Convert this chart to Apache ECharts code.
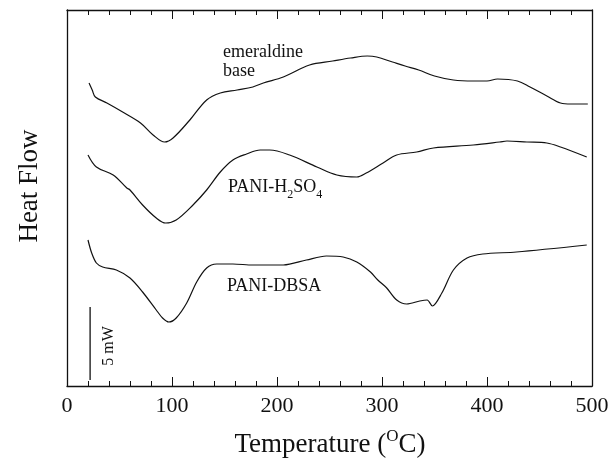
<!DOCTYPE html>
<html>
<head>
<meta charset="utf-8">
<script src="https://cdn.jsdelivr.net/npm/echarts@6/dist/echarts.min.js"></script>
<style>
  html, body { margin: 0; padding: 0; background: #fff; }
  #chart { width: 613px; height: 466px; }
</style>
</head>
<body>
<div id="chart"></div>
<script>
// DSC traces, heat flow in arbitrary units (traces are offset vertically)
const emeraldineTemp = [21, 24, 27, 38, 53, 70, 82, 93, 101, 117, 133, 146, 162, 177, 187, 206, 231, 253, 270, 286, 295, 310, 322, 335, 350, 368, 387, 400, 410, 429, 441, 457, 470, 480, 496];
const emeraldineFlow = [303, 296, 289, 283, 274, 263, 251, 244, 248, 266, 286, 293, 296, 299, 303, 309, 321, 325, 328, 330, 329, 324, 320, 316, 310, 306, 305, 305, 307, 305, 299, 290, 283, 282, 282];

const sulfuricTemp = [20, 28, 44, 57, 60, 72, 85, 94, 104, 120, 133, 146, 158, 171, 184, 193, 212, 238, 257, 276, 285, 301, 314, 333, 349, 387, 412, 419, 438, 457, 470, 495];
const sulfuricFlow = [231, 219, 211, 198, 196, 181, 168, 163, 166, 181, 196, 214, 226, 232, 236, 236, 231, 219, 211, 209, 213, 223, 231, 234, 238, 241, 244, 245, 244, 243, 239, 229];

const dbsaTemp = [20, 23.5, 28, 34, 47, 60, 72, 85, 91, 97, 104, 114, 123.5, 133, 142.6, 158, 177, 206, 228, 247, 263, 276, 289, 296, 304.5, 314, 323.5, 336, 343, 348, 357, 368, 381, 396, 428, 495];
const dbsaFlow = [146, 133, 123, 119, 116, 108, 94, 76, 68, 64, 68, 83, 104, 118, 122, 122, 121, 121, 126, 130, 129, 124, 114, 106, 98, 86, 82, 85, 86, 80, 93, 116, 128, 132, 134, 141];

// 5 mW scale bar
const scaleBarTemp = [22, 22];
const scaleBarFlow = [6, 79];

const tempTicks = [0, 100, 200, 300, 400, 500];

const zip = (xs, ys) => xs.map((x, i) => [x, ys[i]]);
const serif = '"Liberation Serif", "Times New Roman", serif';
const ink = '#111';

function trace(name, xs, ys, smooth) {
  return {
    name: name,
    type: 'line',
    data: zip(xs, ys),
    showSymbol: false,
    smooth: smooth,
    silent: true,
    lineStyle: { color: ink, width: 1.2 },
  };
}

function tempAxis(position, labels) {
  return {
    type: 'value',
    position: position,
    min: tempTicks[0],
    max: tempTicks[tempTicks.length - 1],
    interval: tempTicks[1] - tempTicks[0],
    axisLine: { show: true, onZero: false, lineStyle: { color: ink, width: 1.3 } },
    axisTick: { show: true, inside: true, length: 9, lineStyle: { color: ink } },
    minorTick: { show: true, splitNumber: 5, length: 5, lineStyle: { color: ink } },
    splitLine: { show: false },
    axisLabel: { show: labels, color: ink, fontFamily: serif, fontSize: 22, margin: 9, showMinLabel: true, showMaxLabel: true },
  };
}

function flowAxis(position) {
  return {
    type: 'value',
    position: position,
    min: 0,
    max: 376,
    axisLine: { show: true, onZero: false, lineStyle: { color: ink, width: 1.3 } },
    axisTick: { show: false },
    axisLabel: { show: false },
    splitLine: { show: false },
  };
}

// measure text so the sub/superscripts can be placed next to the main text
const ctx = document.createElement('canvas').getContext('2d');
function textWidth(str, size) {
  ctx.font = size + 'px "Liberation Serif"';
  return ctx.measureText(str).width;
}

function txt(str, x, y, size, extra) {
  return Object.assign({
    type: 'text',
    x: x,
    y: y,
    silent: true,
    style: { text: str, fill: ink, font: size + 'px ' + serif, align: 'left', verticalAlign: 'middle' },
  }, extra || {});
}

// chemical name with subscripts: pieces of [text, isSub]
function chemLabel(pieces, x, y, size, subSize) {
  const out = [];
  let cx = x;
  pieces.forEach(([s, sub]) => {
    const fs = sub ? subSize : size;
    out.push(txt(s, cx, sub ? y + 8 : y, fs));
    cx += textWidth(s, fs);
  });
  return out;
}

// x axis title with a superscript O
function tempTitle(cxMid, y) {
  const a = 'Temperature (', b = 'O', c = 'C)';
  const big = 27, small = 17;
  const w = textWidth(a, big) + textWidth(b, small) + textWidth(c, big);
  let x = cxMid - w / 2;
  const out = [txt(a, x, y, big)];
  x += textWidth(a, big);
  out.push(txt(b, x, y - 8, small));
  x += textWidth(b, small);
  out.push(txt(c, x, y, big));
  return out;
}

function rotated(str, x, y, size) {
  return {
    type: 'text',
    x: x,
    y: y,
    rotation: Math.PI / 2,
    silent: true,
    style: { text: str, fill: ink, font: size + 'px ' + serif, align: 'center', verticalAlign: 'middle' },
  };
}

const chart = echarts.init(document.getElementById('chart'));

const graphics = [].concat(
  [txt('emeraldine', 223, 52, 18), txt('base', 223, 71, 18)],
  chemLabel([['PANI-H', false], ['2', true], ['SO', false], ['4', true]], 228, 187, 18, 12),
  [txt('PANI-DBSA', 227, 286, 18)],
  [rotated('Heat Flow', 30, 186, 27), rotated('5 mW', 109, 346, 16)],
  tempTitle(330, 445)
);

chart.setOption({
  animation: false,
  backgroundColor: '#fff',
  grid: { left: 67, right: 21, top: 10, bottom: 80 },
  xAxis: [tempAxis('bottom', true), tempAxis('top', false)],
  yAxis: [flowAxis('left'), flowAxis('right')],
  series: [
    trace('emeraldine base', emeraldineTemp, emeraldineFlow, 0.35),
    trace('PANI-H2SO4', sulfuricTemp, sulfuricFlow, 0.35),
    trace('PANI-DBSA', dbsaTemp, dbsaFlow, 0.3),
    {
      name: 'scale',
      type: 'line',
      data: zip(scaleBarTemp, scaleBarFlow),
      showSymbol: false,
      silent: true,
      lineStyle: { color: ink, width: 1.3 },
    },
  ],
  graphic: graphics,
});
</script>
</body>
</html>
